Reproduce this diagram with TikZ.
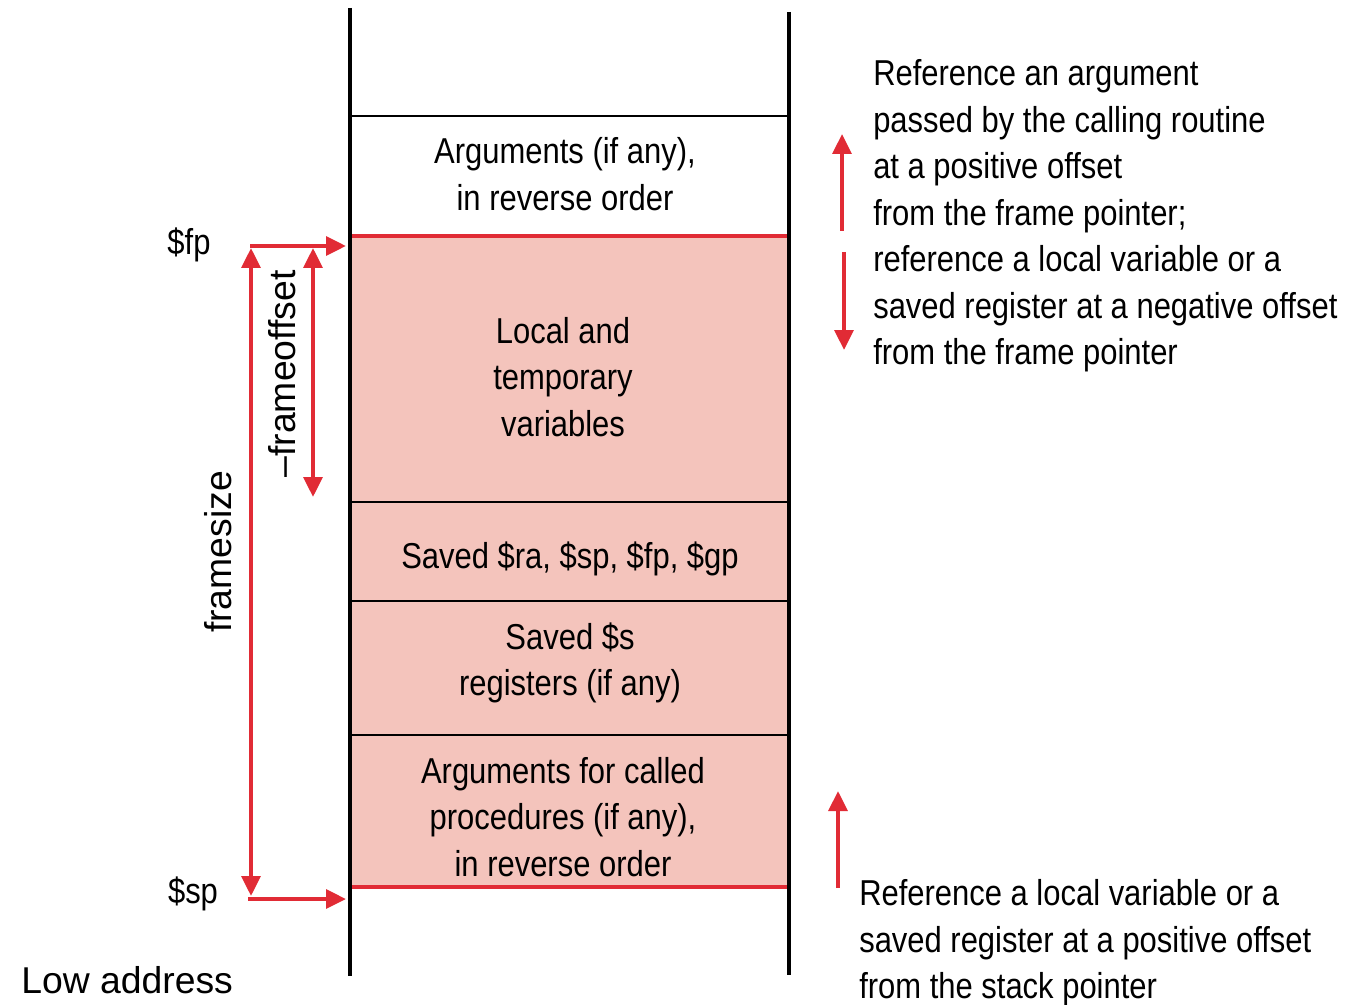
\documentclass[tikz,border=0pt]{standalone}
\usepackage{fontspec}
\setmainfont{Liberation Sans}[FakeStretch=0.86]
\newfontfamily\widefont{Liberation Sans}
\usetikzlibrary{arrows.meta}
\definecolor{fillpink}{HTML}{F4C4BC}
\definecolor{arrred}{HTML}{E12B35}
\begin{document}
\begin{tikzpicture}[x=0.75pt,y=-0.75pt,
  txt/.style={font=\fontsize{27}{34.9}\selectfont, align=center, inner sep=0pt},
  sidetxt/.style={font=\fontsize{27}{34.9}\selectfont, align=left, inner sep=0pt, anchor=west},
  widetxt/.style={font=\widefont\fontsize{28}{34}\selectfont, inner sep=0pt},
  rail/.style={line width=3pt, black},
  divider/.style={line width=1.5pt, black},
  redline/.style={line width=3pt, arrred},
  redarrow/.style={line width=3pt, arrred, -{Triangle[length=15pt,width=14pt]}},
  dblarrow/.style={line width=3pt, arrred, {Triangle[length=15pt,width=14pt]}-{Triangle[length=15pt,width=14pt]}}]
\useasboundingbox (0,0) rectangle (1351,1005);
% frame region fill
\fill[fillpink] (351,236) rectangle (788,887);
% dividers
\draw[divider] (351,116) -- (788,116);
\draw[divider] (351,502) -- (788,502);
\draw[divider] (351,601) -- (788,601);
\draw[divider] (351,735) -- (788,735);
\draw[redline] (351,236) -- (788,236);
\draw[redline] (351,887) -- (788,887);
% rails
\draw[rail] (350,8) -- (350,976);
\draw[rail] (789,12) -- (789,975);
% block texts
\node[txt] (args) at (565,174) {Arguments (if any),\\in reverse order};
\node[txt] (locals) at (563,377) {Local and\\temporary\\variables};
\node[txt] (savedra) at (570,559) {Saved \$ra, \$sp, \$fp, \$gp};
\node[txt] (saveds) at (570,663) {Saved \$s\\registers (if any)};
\node[txt] (argscalled) at (563,817) {Arguments for called\\procedures (if any),\\in reverse order};
% left labels
\node[txt] (fp) at (189,245) {\$fp};
\node[txt] (sp) at (193,894) {\$sp};
\node[widetxt, anchor=west] (low) at (21,980) {Low address};
\node[widetxt, rotate=90] (framesize) at (218,552) {framesize};
\node[widetxt, rotate=90] (frameoffset) at (282,374) {\textendash frameoffset};
% left arrows
\coordinate (fpstart) at (250,246);
\coordinate (fptip) at (346,246);
\coordinate (sptstart) at (248,899);
\coordinate (sptip) at (346,899);
\coordinate (fstop) at (251,248);
\coordinate (fsbot) at (251,896);
\coordinate (fotop) at (313,248);
\coordinate (fobot) at (313,497);
\draw[redarrow] (fpstart) -- (fptip);
\draw[redarrow] (sptstart) -- (sptip);
\draw[dblarrow] (fstop) -- (fsbot);
\draw[dblarrow] (fotop) -- (fobot);
% right arrows
\coordinate (ua1) at (842,231);
\coordinate (ua2) at (842,134);
\coordinate (da1) at (844,252);
\coordinate (da2) at (844,350);
\coordinate (ba1) at (838,888);
\coordinate (ba2) at (838,791);
\draw[redarrow] (ua1) -- (ua2);
\draw[redarrow] (da1) -- (da2);
\draw[redarrow] (ba1) -- (ba2);
% right texts
\node[sidetxt] (fpnote) at (873,216) {Reference an argument\\passed by the calling routine\\at a positive offset\\from the frame pointer;\\reference a local variable or a\\saved register at a negative offset\\from the frame pointer};
\node[sidetxt] (spnote) at (859,943) {Reference a local variable or a\\saved register at a positive offset\\from the stack pointer};
\end{tikzpicture}
\end{document}
